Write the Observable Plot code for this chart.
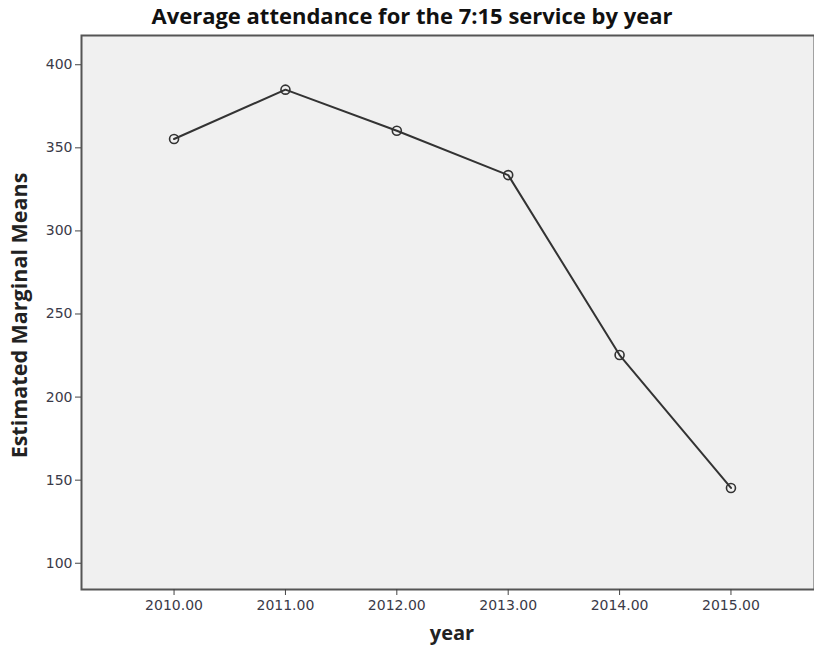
<!DOCTYPE html>
<html>
<head>
<meta charset="utf-8">
<script src="https://cdn.jsdelivr.net/npm/d3@7"></script>
<script src="https://cdn.jsdelivr.net/npm/@observablehq/plot@0.6"></script>
<style>
  html, body { margin: 0; padding: 0; background: #ffffff; }
  #chart { width: 814px; height: 650px; overflow: hidden; }
</style>
</head>
<body>
<div id="chart"></div>
<script>
const years = [2010, 2011, 2012, 2013, 2014, 2015];
const means = [355.3, 385, 360.3, 333.6, 225.3, 145.3];
const yTicks = [100, 150, 200, 250, 300, 350, 400];
const titleText = "Average attendance for the 7:15 service by year";
const xLabel = "year";
const yLabel = "Estimated Marginal Means";

const data = years.map((y, i) => ({year: y, mean: means[i]}));

const tickColor = "#3a3a48";
const tickFont = "DejaVu Sans, Verdana, sans-serif";

const chart = Plot.plot({
  width: 814,
  height: 650,
  marginLeft: 81,
  marginRight: 0,
  marginTop: 35,
  marginBottom: 61,
  style: {background: "#ffffff", fontFamily: tickFont, fontSize: "14px"},
  x: {domain: [2009.169, 2015.75]},
  y: {domain: [84.2, 417.6]},
  marks: [
    Plot.frame({fill: "#f0f0f0", stroke: "#555555", strokeWidth: 2}),
    Plot.axisX({ticks: years, tickFormat: d3.format(".2f"), tickSize: 6, tickPadding: 5,
      stroke: "#444", fill: tickColor, fontSize: 14, label: null}),
    Plot.axisY({ticks: yTicks, tickFormat: d => d, tickSize: 6, tickPadding: 3,
      stroke: "#444", fill: tickColor, fontSize: 14, label: null}),
    Plot.line(data, {x: "year", y: "mean", stroke: "#333333", strokeWidth: 2}),
    Plot.dot(data, {x: "year", y: "mean", r: 4.5, stroke: "#333333", strokeWidth: 1.6, fill: "none"}),
    Plot.text([titleText], {frameAnchor: "top", text: d => d, dy: -27, dx: -36,
      fontSize: 22, fontWeight: "bold", fill: "#111", fontFamily: "Open Sans, sans-serif"}),
    Plot.text([xLabel], {frameAnchor: "bottom", text: d => d, dy: 50, dx: 4,
      fontSize: 20, fontWeight: "bold", fill: "#222", fontFamily: "Open Sans, sans-serif"}),
    Plot.text([yLabel], {frameAnchor: "left", text: d => d, dx: -61, dy: 3, rotate: -90,
      textAnchor: "middle",
      fontSize: 21.5, fontWeight: "bold", fill: "#222", fontFamily: "Open Sans, sans-serif"})
  ]
});
document.getElementById("chart").appendChild(chart);
</script>
</body>
</html>
